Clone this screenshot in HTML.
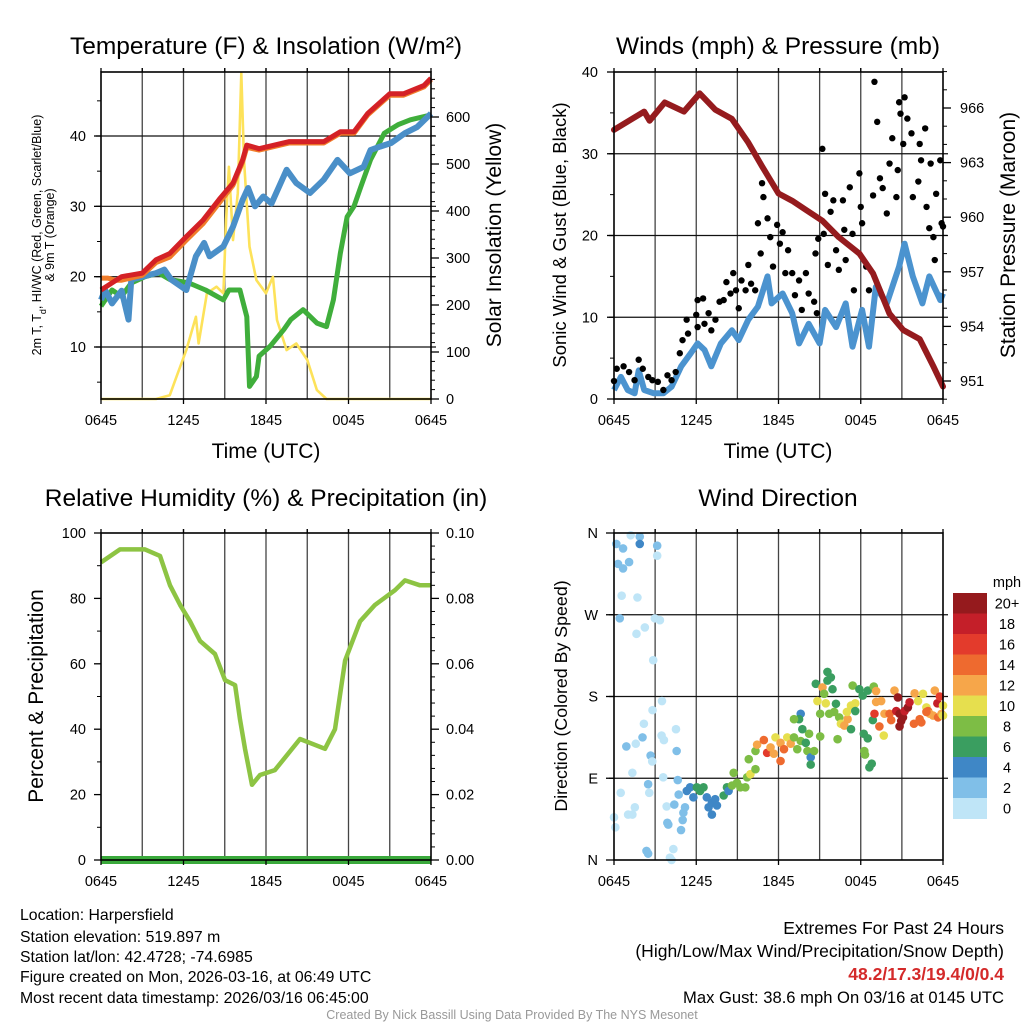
<!DOCTYPE html>
<html><head><meta charset="utf-8"><style>
html,body{margin:0;padding:0;background:#fff;}
svg{display:block;font-family:"Liberation Sans",sans-serif;}
</style></head><body>
<svg id="chart" width="1024" height="1024" viewBox="0 0 1024 1024" xmlns="http://www.w3.org/2000/svg">
<rect width="1024" height="1024" fill="#fff"/>
<g id="layer"></g>
<g font-size="15.8" fill="#000">
<text x="20" y="920">Location: Harpersfield</text>
<text x="20" y="942">Station elevation: 519.897 m</text>
<text x="20" y="962">Station lat/lon: 42.4728; -74.6985</text>
<text x="20" y="982">Figure created on Mon, 2026-03-16, at 06:49 UTC</text>
<text x="20" y="1003">Most recent data timestamp: 2026/03/16 06:45:00</text>
</g>
<g text-anchor="end">
<text x="1004" y="934" font-size="17.5">Extremes For Past 24 Hours</text>
<text x="1004" y="957" font-size="17.5">(High/Low/Max Wind/Precipitation/Snow Depth)</text>
<text x="1004" y="980" font-size="17.5" fill="#d42a2a" font-weight="bold">48.2/17.3/19.4/0/0.4</text>
<text x="1004" y="1003" font-size="16.6">Max Gust: 38.6 mph On 03/16 at 0145 UTC</text>
</g>
<text x="512" y="1019" text-anchor="middle" font-size="12.5" fill="#999">Created By Nick Bassill Using Data Provided By The NYS Mesonet</text>
</svg>
<script>
// ---------- DATA ----------
const xTickLabels = ["0645","1245","1845","0045","0645"];
const redT = [0,1.5,3,4,5,6.2,7.4,8.6,9.6,10.3,10.6,11.5,13.7,16.2,17.4,18.4,19.4,21,22,23.5,24];
const redV = [18.1,20,20.5,22.4,23.3,25.7,28,31,33.3,36.6,38.7,38.2,39.2,39.2,40.6,40.6,43.2,46,46,47.2,48.2];
const orangeT = [0,0.5,1,1.5,3,4,5,6.2,7.4,8.6,9.6,10.3,10.6,11.5,13.7,16.2,17.4,18.4,19.4,21,22,23.5,24];
const orangeV = [19.8,19.8,19.5,19.5,20.2,22,22.8,25.2,27.5,30.5,33,36.3,38.4,38,39,39,40.4,40.4,43,45.8,45.8,47,48];
const blueT = [0,0.3,0.8,1.5,2,2.2,3,4,4.6,5.1,6.2,6.9,7.5,7.9,8.9,9.6,10.3,10.7,11.2,11.8,12.4,13.5,14.2,15.2,16.2,17.2,18.1,19.1,19.6,20.3,21.1,22.1,23,24];
const blueV = [16.7,18.1,16.2,18,13.9,19.6,20,20.5,21,19.6,18.1,22.9,24.8,22.9,24.3,27.1,30.9,32.6,30,31.4,30.4,35.2,33.3,31.9,33.8,36.6,34.7,35.6,38,38.5,39,40.4,41.3,43.2];
const greenT = [0,0.8,1.5,2.2,3.2,4.2,5,6.4,7.6,8.9,9.3,10.1,10.6,10.8,11.3,11.5,12.3,13.3,13.8,14.7,15.7,16.4,16.9,17.4,17.9,18.4,18.9,19.6,20.6,21.6,22.5,24];
const greenV = [15.8,18.1,17.2,19.1,20,20.5,19.6,19.1,18.1,16.7,18.1,18.1,14.3,4.4,5.8,8.7,10.1,12.5,13.9,15.3,13.4,12.9,16.7,23.3,28.5,30,32.8,36.6,40.4,41.6,42.3,43];
const solarT = [0,4,5,5.5,6.2,6.9,7.1,7.7,8.4,8.9,9.1,9.3,9.6,9.95,10.2,10.4,10.8,11.3,12,12.5,12.8,13.5,14.2,15,15.7,16.4,24];
const solarV = [0,0,8,48,104,175,118,225,239,225,381,494,338,438,693,508,324,253,225,260,168,104,118,83,19,0,0];
const tempTicks = [10,20,30,40];
const solarTicks = [0,100,200,300,400,500,600];
const windT = [0,0.5,1,1.5,1.8,2.2,2.9,3.6,4.2,4.9,5.6,6.1,6.6,7.1,7.8,8.6,9.1,9.8,10.5,11.2,11.5,12.3,13,13.5,14.2,15,15.4,16.2,16.9,17.4,18.1,18.6,19.1,19.9,20.8,21.2,21.8,22.5,23,23.8,24];
const windV = [1.1,2.7,1.1,0.7,3.5,1.1,0.7,0.7,1.5,4,5.6,6.8,6,4,6.8,8.4,7.2,9.7,11.3,15,11.7,12.9,10.5,6.8,9.2,6.8,10.9,8.8,11.7,6.4,10.9,6.4,13.7,11.7,16.2,19,15,11.7,15,12.1,12.9];
const gustT = [0,0.2,0.7,1.1,1.5,1.8,2.1,2.5,2.8,3.2,3.6,3.9,4.2,4.5,4.8,5,5.3,5.4,6,6.1,6.1,6.5,6.6,6.9,7.1,7.4,7.7,8,8.2,8.5,8.7,9.1,8.9,9.3,9.6,9.8,10,10.3,10.5,10.8,10.9,10.7,11.2,11.4,11.6,11.9,12.1,12.3,12.5,12.7,13,13.2,13.5,13.7,14,14.2,14.6,14.8,14.7,14.9,15.2,15.3,15.4,15.6,15.8,16,16.2,16.4,16.7,16.8,16.9,17.2,17.4,17.5,17.9,18,18.1,18.4,18.6,18.9,19,19.2,19.4,19.6,19.9,20.1,20.3,20.6,20.7,20.8,20.9,21.1,21.2,21.4,21.7,21.8,22.2,22.3,22.4,22.7,22.8,23,23.1,23.3,23.4,23.5,23.8,23.9,24];
const gustV = [2.2,3.7,4,3.3,2.3,4.8,3.7,2.7,2.3,2.1,1.1,2.9,2.3,3.3,5.6,7.2,9.7,8,10.3,12.1,8.8,12.3,9.2,10.5,8.4,9.7,11.9,12.1,14.3,12.9,15.4,11.1,13.3,14.5,13.3,16.4,14.1,13.3,21.5,26.4,24.7,17.8,22.1,19.8,16.2,21.3,19,20.4,15.4,18.2,15.4,12.7,14.5,10.9,15.4,12.9,11.9,10.5,17.8,19.6,30.6,20.2,25.1,16.4,22.9,24.3,18.2,15.8,24.3,20.7,17,25.9,20.2,13.3,27.6,23.5,21.5,16.2,13.3,24.9,38.8,33.9,27,25.8,22.7,28.8,31.9,24.7,28,36.3,34.9,31.2,36.9,34.3,32.5,24.7,26.6,31.2,29.2,33.1,23.5,20.9,28.8,19.8,17,25.1,29.2,21.5,21.1];
const presT = [0,2.2,2.6,3.7,5.1,6.25,7.4,8.6,9.8,10.8,12,13,14,15.2,16.4,17.9,18.9,20.1,21.1,22.3,23.3,24];
const presV = [964.8,965.8,965.3,966.3,965.8,966.8,965.9,965.4,964.1,962.8,961.3,960.9,960.4,959.8,958.9,958,956.9,954.7,953.8,953.3,951.8,950.7];
const windTicks = [0,10,20,30,40];
const presTicks = [951,954,957,960,963,966];
const rhT = [0,1.38,3.2,4.29,5.02,5.75,6.47,7.2,8.29,9.02,9.75,10.11,10.47,10.98,11.56,12.65,14.47,16.29,17.02,17.75,18.84,19.93,21.38,22.11,23.2,24];
const rhV = [91,95,95,93,84,78,73,67,63,55,53.5,43,34,23,26,27.5,37,34,40,61,73,78,82.5,85.5,84,84];
const precipT = [0,24];
const precipV = [0,0];
const rhTicks = [0,20,40,60,80,100];
const precipTicks = ["0.00","0.02","0.04","0.06","0.08","0.10"];
const wdT = [0.17,0.66,1.22,1.88,1.88,3.15,3.15,0.29,0.66,1.1,0.56,1.71,0.42,2.25,1.64,2.98,3.35,2.86,3.5,2.81,2.18,4.52,2.08,0.9,1.59,3.47,3.64,4.57,2.67,2.79,1.34,3.59,4.65,2.49,2.57,0.49,1.52,1.03,1.34,3.84,4.4,0,0.1,5.18,4.72,5.06,5.01,3.89,3.96,4.89,2.37,2.49,4.08,4.33,4.2,
5.31,5.55,5.79,6.04,6.28,6.53,6.77,6.9,7.14,7.14,7.38,7.51,8,8.24,8.36,8.61,8.73,8.97,9.22,9.58,9.71,9.95,9.83,10.32,10.32,
10.44,10.93,11.17,11.42,11.66,11.78,12.15,12.15,12.4,12.64,12.89,13.13,13.37,13.62,13.99,14.11,14.23,13.62,13.5,13.13,13.74,14.35,14.35,14.6,15.04,15.04,
14.72,15.21,15.57,15.33,14.84,15.45,15.57,15.82,15.94,16.19,15.7,16.06,16.43,16.55,16.8,17.04,16.99,17.29,17.6,17.41,17.6,17.29,16.31,17.9,18.14,18.51,18.95,19.12,19.12,18.22,18.51,18.26,18.31,18.63,18.8,18.88,19,
19.49,19.36,19.73,19.68,20.1,20.22,20.46,20.71,20.59,20.83,20.95,20.83,21.08,21.2,21.44,21.56,21.93,21.88,22.18,22.3,22.54,22.42,22.79,22.91,23.03,23.28,23.4,23.59,23.77,23.64,23.89,24,24,22.79];
const wdDir = [348,343,357.5,356,348,346,335,326,321,328,291,289,266,256,249,266,264,220,175,165,150,144,135,125,128,137,132,120,115,108.5,96,91,88,83.5,74,74,58,50,50,59,61,47,36,58,72,52,44,41,39,33,10,7,2.6,12,0,
76,80,69,80,76,80,69,58,63,50,67,60,71,80,76,82,96,85,80,80,91,94.5,111,100,120,
127,132,118,124,117,135,109,129,122,135,128,135,122,131,129,120,139,161,155,155,144,113,105,120,136,161,
194,190,197.5,183,175,172.5,207,201,188,172,161,163,157,150,148,155,163,170,172.5,192,164,144,133,188,181,186.5,191,186,174,139,134,120,116,102,106,154,161,
175,147,161,137,161,154,186.5,179,164,161,153,147,157,164,168,173.6,183.5,150,175,155,183,151.5,168,164,161,159,186.5,172.5,180,157,161,170,159,163];
const wdSpd = [2,2,1,2,4,2,1,2,2,2,1,1,2,1,1,1,1,1,1,1,1,1,2,2,1,1,1,2,2,1,1,1,2,2,1,1,1,1,1,1,2,1,1,3,2,3,3,2,2,2,2,2,1,1,1,
4,4,4,6,6,6,4,4,4,4,4,4,6,6,4,8,8,8,8,8,8,10,8,8,8,
12,14,16,12,12,10,14,12,14,10,12,8,8,8,6,8,8,4,6,8,6,4,6,8,8,8,
6,12,6,8,10,10,6,6,6,6,8,8,8,10,12,12,10,10,10,8,6,6,8,6,6,6,8,12,12,6,6,8,8,6,6,6,16,
12,14,12,10,14,14,12,20,18,20,20,20,20,18,20,18,12,14,10,14,10,14,10,14,12,12,12,18,16,14,12,10,10,14];
const dirTicks = ["N","E","S","W","N"];
const dirTickDeg = [0,90,180,270,360];
const speedBins = ["0","2","4","6","8","10","12","14","16","18","20+"];
const speedColors = ["#bfe5f7","#80bfe8","#3f87c6","#3a9e60","#7dbd45","#e6df4e","#f6a64a","#ee6a2f","#e33b2c","#c41f29","#951a1d"];

// ---------- DRAW ----------
const NS="http://www.w3.org/2000/svg";
const layer=document.getElementById('layer');
function el(tag,attrs,parent){const e=document.createElementNS(NS,tag);for(const k in attrs)e.setAttribute(k,attrs[k]);(parent||layer).appendChild(e);return e;}
function txt(s,attrs,parent){const e=el('text',attrs,parent);e.textContent=s;return e;}
function makePanel(name,x0,y0,x1,y1){
  const g=el('g',{});
  
  
  return {g,x0,y0,x1,y1,xs:t=>x0+t/24*(x1-x0)};
}
function lin(d0,d1,p0,p1){return v=>p0+(v-d0)/(d1-d0)*(p1-p0);}
function pathFrom(T,V,xs,ys){return T.map((t,i)=>(i?'L':'M')+xs(t).toFixed(1)+','+ys(V[i]).toFixed(1)).join('');}
function frame(P,hgrid){
  const g=P.g;
  for(let h=3;h<24;h+=3){
    const l=el('line',{x1:P.xs(h),x2:P.xs(h),y1:P.y0-4,y2:P.y1,stroke:'#444','stroke-width':1.3},g);
    
    
  }
  hgrid.forEach(y=>{
    const l=el('line',{x1:P.x0-5,x2:P.x1+5,y1:y,y2:y,stroke:'#111','stroke-width':1.2},g);
    
    
  });
}
function border(P){
  const r=el('rect',{x:P.x0,y:P.y0,width:P.x1-P.x0,height:P.y1-P.y0,fill:'none',stroke:'#000','stroke-width':1.6},P.g);
  
  
  for(let h=0;h<=24;h+=6){
    const l=el('line',{x1:P.xs(h),x2:P.xs(h),y1:P.y1,y2:P.y1+5,stroke:'#000','stroke-width':1.3},P.g);
    
    
  }
  for(let h=0;h<=24;h+=3){
    el('line',{x1:P.xs(h),x2:P.xs(h),y1:P.y0-4,y2:P.y0,stroke:'#000','stroke-width':1.3},P.g);
  }
  xTickLabels.forEach((s,i)=>{
    const t=txt(s,{x:P.xs(i*6),y:P.y1+26,'text-anchor':'middle','font-size':14.5},P.g);
    
    
  });
}
function rightTicks(P,ys,vals,minor,fmt,lx){
  minor.forEach(v=>{el('line',{x1:P.x1,x2:P.x1+4,y1:ys(v),y2:ys(v),stroke:'#000','stroke-width':1},P.g);});
  vals.forEach((v,i)=>{
    el('line',{x1:P.x1,x2:P.x1+8,y1:ys(v),y2:ys(v),stroke:'#000','stroke-width':1.3},P.g);
    const t=txt(fmt?fmt(v,i):String(v),{x:lx,y:ys(v)+5,'font-size':14.5},P.g);
    
    
  });
}
function leftLabels(P,ys,vals,lab,lx,minor){
  (minor||[]).forEach(v=>{el('line',{x1:P.x0-4,x2:P.x0,y1:ys(v),y2:ys(v),stroke:'#000','stroke-width':1},P.g);});
  vals.forEach((v,i)=>{
    el('line',{x1:P.x0-7,x2:P.x0,y1:ys(v),y2:ys(v),stroke:'#000','stroke-width':1.3},P.g);
    const t=txt(lab?lab[i]:String(v),{x:lx,y:ys(v)+5,'text-anchor':'end','font-size':14.5},P.g);
    
    
  });
}
function title(s,x,y,name){const t=txt(s,{x,y,'text-anchor':'middle','font-size':24.5});return t;}
function vlabel(s,x,y,fs,name){const t=txt(s,{x:0,y:0,'text-anchor':'middle','font-size':fs,transform:`translate(${x},${y}) rotate(-90)`});return t;}

// Panel 1
{
  const P=makePanel('temperature-panel',101,72,431,399);
  const ys=lin(10,40,347,136), ysr=lin(0,600,399,117);
  frame(P,tempTicks.map(ys));
  const sol=el('path',{d:pathFrom(solarT,solarV,P.xs,ysr),fill:'none',stroke:'#fde25a','stroke-width':2.6,'stroke-linejoin':'round'},P.g);
   
  const gr=el('path',{d:pathFrom(greenT,greenV,P.xs,ys),fill:'none',stroke:'#3fae3b','stroke-width':5,'stroke-linejoin':'round'},P.g);
   
  const bl=el('path',{d:pathFrom(blueT,blueV,P.xs,ys),fill:'none',stroke:'#4a8fc8','stroke-width':6,'stroke-linejoin':'round'},P.g);
   
  const or=el('path',{d:pathFrom(orangeT,orangeV,P.xs,ys),fill:'none',stroke:'#f07c2a','stroke-width':5,'stroke-linejoin':'round'},P.g);
   
  const rd=el('path',{d:pathFrom(redT,redV,P.xs,ys),fill:'none',stroke:'#d42126','stroke-width':5,'stroke-linejoin':'round'},P.g);
   
  border(P);
  leftLabels(P,ys,tempTicks,null,86,[5,15,25,35,45]);
  const mn=[];for(let v=20;v<=680;v+=20)if(v%100)mn.push(v);
  rightTicks(P,ysr,solarTicks,mn,null,446);
  title('Temperature (F) & Insolation (W/m\u00B2)',266,54,'temperature-title');
  const yl=vlabel('',41,235,12.5,'temperature-y-title');
  yl.innerHTML='2m T, T<tspan baseline-shift="sub" font-size="9">d</tspan>, HI/WC (Red, Green, Scarlet/Blue)';
  vlabel('& 9m T (Orange)',54,235,12.5,'temperature-y-title-2');
  vlabel('Solar Insolation (Yellow)',501,235,21,'solar-y-title');
  const xt=txt('Time (UTC)',{x:266,y:458,'text-anchor':'middle','font-size':21});  
}
// Panel 2
{
  const P=makePanel('winds-panel',614,72,943,399);
  const ys=lin(0,40,399,72), ysr=lin(951,966,381,108);
  frame(P,[10,20,30].map(ys));
  const bl=el('path',{d:pathFrom(windT,windV,P.xs,ys),fill:'none',stroke:'#4b93cf','stroke-width':6,'stroke-linejoin':'round'},P.g);
   
  gustT.forEach((t,i)=>{
    const c=el('circle',{cx:P.xs(t),cy:ys(gustV[i]),r:3.2,fill:'#000'},P.g);
    
    
  });
  const pr=el('path',{d:pathFrom(presT,presV,P.xs,ysr),fill:'none',stroke:'#951b1e','stroke-width':6,'stroke-linejoin':'round','stroke-linecap':'round'},P.g);
   
  border(P);
  leftLabels(P,ys,windTicks,null,598,[5,15,25,35]);
  const mn=[];for(let v=950;v<=968;v+=1)if((v-951)%3)mn.push(v);
  rightTicks(P,ysr,presTicks,mn,null,960);
  title('Winds (mph) & Pressure (mb)',778,54,'winds-title');
  vlabel('Sonic Wind & Gust (Blue, Black)',566,235,18.5,'wind-y-title');
  vlabel('Station Pressure (Maroon)',1015,235,21,'pressure-y-title');
  const xt=txt('Time (UTC)',{x:778,y:458,'text-anchor':'middle','font-size':21});  
}
// Panel 3
{
  const P=makePanel('humidity-panel',101,533,431,860);
  const ys=lin(0,100,860,533), ysr=lin(0,0.1,860,533);
  frame(P,[]);
  const pp=el('path',{d:pathFrom(precipT,precipV,P.xs,ysr),fill:'none',stroke:'#3aa93b','stroke-width':8},P.g);
   
  const rh=el('path',{d:pathFrom(rhT,rhV,P.xs,ys),fill:'none',stroke:'#8dc443','stroke-width':4.5,'stroke-linejoin':'round'},P.g);
   
  border(P);
  leftLabels(P,ys,rhTicks,null,86,[10,30,50,70,90]);
  const pv=precipTicks.map(Number);
  const mn=[];for(let v=0;v<=100;v+=4)if(v%20)mn.push(v/1000);
  rightTicks(P,ysr,pv,mn,(v,i)=>precipTicks[i],446);
  title('Relative Humidity (%) & Precipitation (in)',266,506,'humidity-title');
  vlabel('Percent & Precipitation',43,696,21,'humidity-y-title');
}
// Panel 4
{
  const P=makePanel('wind-direction-panel',614,533,943,860);
  const ys=lin(0,360,860,533);
  frame(P,[90,180,270].map(ys));
  wdT.forEach((t,i)=>{
    const b=Math.min(10,Math.floor(wdSpd[i]/2));
    const c=el('circle',{cx:P.xs(t),cy:ys(wdDir[i]),r:4.3,fill:speedColors[b]},P.g);
    
    
  });
  border(P);
  dirTicks.forEach((s,i)=>{
    const y=ys(dirTickDeg[i]);
    el('line',{x1:P.x0-8,x2:P.x0,y1:y,y2:y,stroke:'#000','stroke-width':1.3},P.g);
    const t=txt(s,{x:598,y:y+5,'text-anchor':'end','font-size':14.5},P.g);
     
  });
  title('Wind Direction',778,506,'wind-direction-title');
  vlabel('Direction (Colored By Speed)',567,696,17.8,'direction-y-title');
  const cb=el('g',{});  
  const top=593,h=20.5;
  speedBins.forEach((s,i)=>{
    const k=10-i;
    const r=el('rect',{x:953,y:top+i*h,width:34,height:h+0.5,fill:speedColors[k]},cb);
     
    const t=txt(speedBins[k],{x:1007,y:top+i*h+h/2+5,'text-anchor':'middle','font-size':14.5},cb);
     
  });
  const m=txt('mph',{x:1007,y:587,'text-anchor':'middle','font-size':14.5},cb);
   
}
</script>
</body></html>
